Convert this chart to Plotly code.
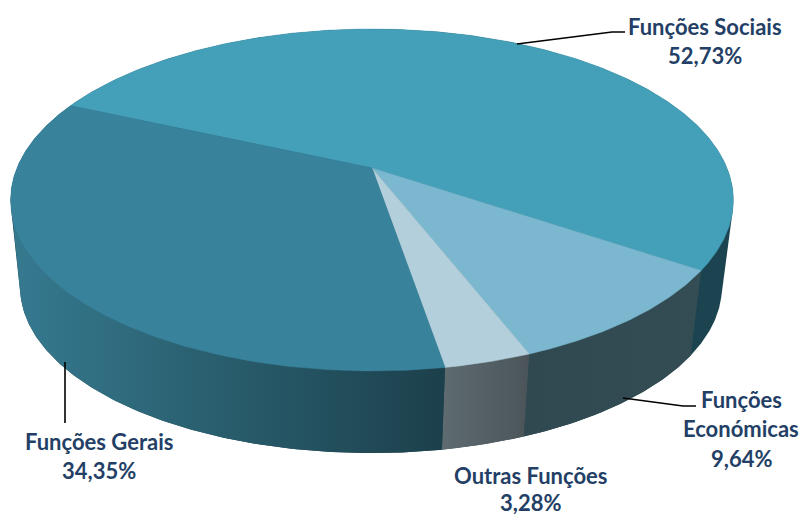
import numpy as np
import plotly.graph_objects as go

categories = ["Funções Sociais", "Funções Económicas", "Outras Funções", "Funções Gerais"]
shares = [52.73, 9.64, 3.28, 34.35]
share_labels = ["52,73%", "9,64%", "3,28%", "34,35%"]

top_colors = ["#449FB9", "#7BB8CF", "#B2CFDB", "#39829C"]
side_scales = [
    [[0, "#1C4450"], [1, "#1C4450"]],
    [[0, "#304850"], [1, "#344C54"]],
    [[0, "#5E6B71"], [1, "#4B5559"]],
    [[0, "#367A90"], [0.44, "#2A6070"], [1, "#1C404B"]],
]
ink = "#243F66"
start_deg = 294.0

W, H = 803, 515
CX, CY = 372, 168
A, B, K = 355, 165, 0.187
CX2, CY2, S = 371, 256, 0.971


def project(theta, cx=CX, cy=CY, s=1.0):
    t = np.radians(theta)
    u, v = np.sin(t), -np.cos(t)
    w = 1 - K * v
    return cx + s * A * u / w, cy + s * B * v / w


def arc(a, b, **kw):
    n = max(int(abs(b - a) * 2), 2)
    return project(np.linspace(a, b, n), **kw)


def hull(xs, ys):
    pts = sorted(set(zip(xs.tolist(), ys.tolist())))

    def half(seq):
        out = []
        for p in seq:
            while len(out) > 1 and ((out[-1][0] - out[-2][0]) * (p[1] - out[-2][1])
                                    - (out[-1][1] - out[-2][1]) * (p[0] - out[-2][0])) <= 0:
                out.pop()
            out.append(p)
        return out[:-1]

    ring = half(pts) + half(pts[::-1])
    ring.append(ring[0])
    return [p[0] for p in ring], [p[1] for p in ring]


edges = start_deg + np.concatenate([[0], np.cumsum(shares)]) * 3.6
fig = go.Figure()

# side walls
for i in range(len(shares)):
    a, b = edges[i] % 360, edges[i + 1] % 360
    if b < a:
        b += 360
    if i == 0:
        a = 60
    x1, y1 = arc(a, b)
    x2, y2 = arc(a, b, cx=CX2, cy=CY2, s=S)
    xs, ys = hull(np.concatenate([x1, x2]), np.concatenate([y1, y2]))
    fig.add_trace(go.Scatter(
        x=xs, y=ys, mode="lines", line=dict(width=0), fill="toself",
        fillgradient=dict(type="horizontal", colorscale=side_scales[i]),
        hoverinfo="skip", showlegend=False))

# top faces
for i in range(len(shares)):
    x, y = arc(edges[i], edges[i + 1])
    xs = np.concatenate([[CX], x, [CX]])
    ys = np.concatenate([[CY], y, [CY]])
    fig.add_trace(go.Scatter(
        x=xs, y=ys, mode="lines", line=dict(width=0.5, color=top_colors[i]),
        fill="toself", fillcolor=top_colors[i],
        hoverinfo="skip", showlegend=False))

# leader lines
leaders = [
    ([517, 612, 625], [44, 32, 32]),
    ([623, 683, 696], [398, 406, 406]),
    ([65, 65], [362, 423]),
]
for lx, ly in leaders:
    fig.add_trace(go.Scatter(x=lx, y=ly, mode="lines", line=dict(color="black", width=1.6),
                             hoverinfo="skip", showlegend=False))

label_font = dict(family="Lato", size=22, color=ink, weight="bold")
label_lines = [
    (705, 26, categories[0]), (705, 55, share_labels[0]),
    (741, 399, "Funções"), (741, 428, "Económicas"), (741, 458, share_labels[1]),
    (530, 475, categories[2]), (530, 502, share_labels[2]),
    (99, 441, categories[3]), (99, 470, share_labels[3]),
]
for x, y, t in label_lines:
    fig.add_annotation(x=x, y=y, text=t, showarrow=False, font=label_font,
                       xanchor="center", yanchor="middle")

fig.update_layout(
    width=W, height=H, margin=dict(l=0, r=0, t=0, b=0),
    paper_bgcolor="white", plot_bgcolor="white",
    xaxis=dict(range=[0, W], visible=False),
    yaxis=dict(range=[H, 0], visible=False),
    showlegend=False,
)
fig.write_html("out.html", config={"displayModeBar": False},
               post_script="document.body.style.margin='0';document.body.style.overflow='hidden';")
